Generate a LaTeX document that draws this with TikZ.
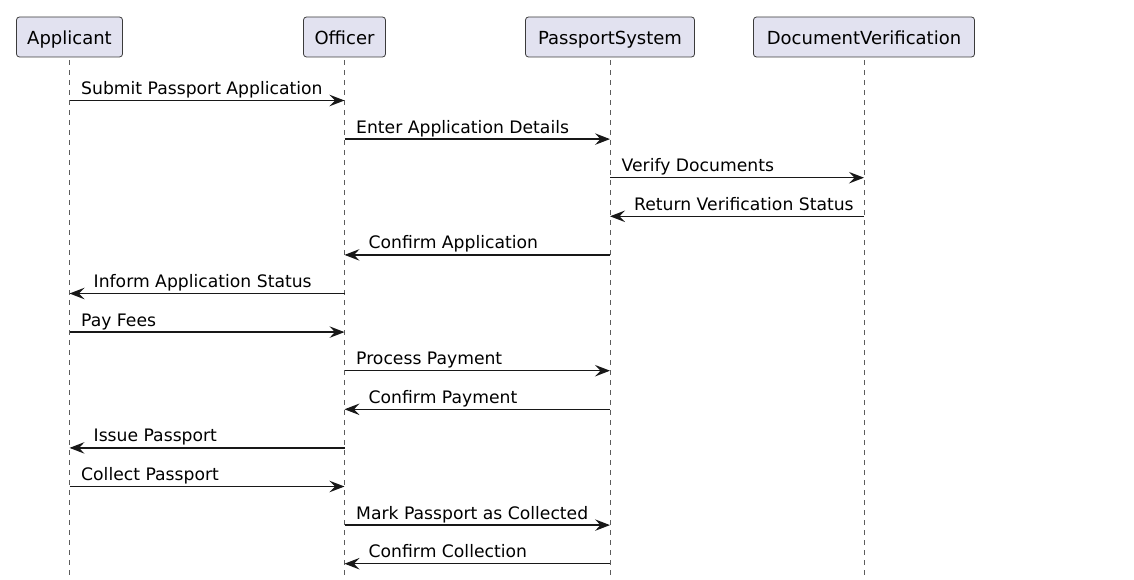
\documentclass[tikz,border=0pt]{standalone}
\usepackage{fontspec}
\setmainfont{DejaVu Sans}
\usetikzlibrary{arrows.meta}
\definecolor{ink}{HTML}{181818}
\definecolor{partfill}{HTML}{E2E2F0}
\begin{document}
\begin{tikzpicture}[x=1pt,y=-1pt,
  part/.style={draw=ink!85, line width=0.8pt, fill=partfill, rounded corners=3pt,
    minimum height=40pt, inner sep=0pt, text height=18.6pt, text depth=4pt,
    font=\fontsize{18}{20}\selectfont, text=black},
  life/.style={draw=ink!70, line width=0.8pt, dash pattern=on 5pt off 5pt},
  msg/.style={draw=ink, line width=1.3pt, arrows={-Stealth[length=15pt,width=11.5pt,inset=5.5pt]}},
  lbl/.style={anchor=base west, inner sep=0pt, font=\fontsize{17.2}{20}\selectfont, text=black}]
\useasboundingbox (0,0) rectangle (1134,580);
\node[part, minimum width=106pt] (A) at (69.5,37) {Applicant};
\node[part, minimum width=82pt] (O) at (344.5,37) {Officer};
\node[part, minimum width=169pt] (P) at (610,37) {PassportSystem};
\node[part, minimum width=221pt] (D) at (864,37) {DocumentVerification};
\coordinate (Aend) at (69.5,580);
\coordinate (Oend) at (344.5,580);
\coordinate (Pend) at (610,580);
\coordinate (Dend) at (864,580);
\foreach \n in {A,O,P,D} \draw[life] ([yshift=-3pt]\n.south) -- (\n end);
\foreach \i in {1,...,13} \coordinate (r\i) at (0,{100.5+38.6*(\i-1)});
\foreach \i/\s/\t in {1/A/O, 2/O/P, 3/P/D, 4/D/P, 5/P/O, 6/O/A, 7/A/O,
  8/O/P, 9/P/O, 10/O/A, 11/A/O, 12/O/P, 13/P/O}{
  \draw[msg] (\s |- r\i) -- (\t |- r\i);
}
\node[lbl] (m1) at ([xshift=11.5pt,yshift=6pt]A |- r1) {Submit Passport Application};
\node[lbl] (m2) at ([xshift=11.5pt,yshift=6pt]O |- r2) {Enter Application Details};
\node[lbl] (m3) at ([xshift=11.5pt,yshift=6pt]P |- r3) {Verify Documents};
\node[lbl] (m4) at ([xshift=24pt,yshift=6pt]P |- r4) {Return Verification Status};
\node[lbl] (m5) at ([xshift=24pt,yshift=6pt]O |- r5) {Confirm Application};
\node[lbl] (m6) at ([xshift=24pt,yshift=6pt]A |- r6) {Inform Application Status};
\node[lbl] (m7) at ([xshift=11.5pt,yshift=6pt]A |- r7) {Pay Fees};
\node[lbl] (m8) at ([xshift=11.5pt,yshift=6pt]O |- r8) {Process Payment};
\node[lbl] (m9) at ([xshift=24pt,yshift=6pt]O |- r9) {Confirm Payment};
\node[lbl] (m10) at ([xshift=24pt,yshift=6pt]A |- r10) {Issue Passport};
\node[lbl] (m11) at ([xshift=11.5pt,yshift=6pt]A |- r11) {Collect Passport};
\node[lbl] (m12) at ([xshift=11.5pt,yshift=6pt]O |- r12) {Mark Passport as Collected};
\node[lbl] (m13) at ([xshift=24pt,yshift=6pt]O |- r13) {Confirm Collection};
\end{tikzpicture}
\end{document}
